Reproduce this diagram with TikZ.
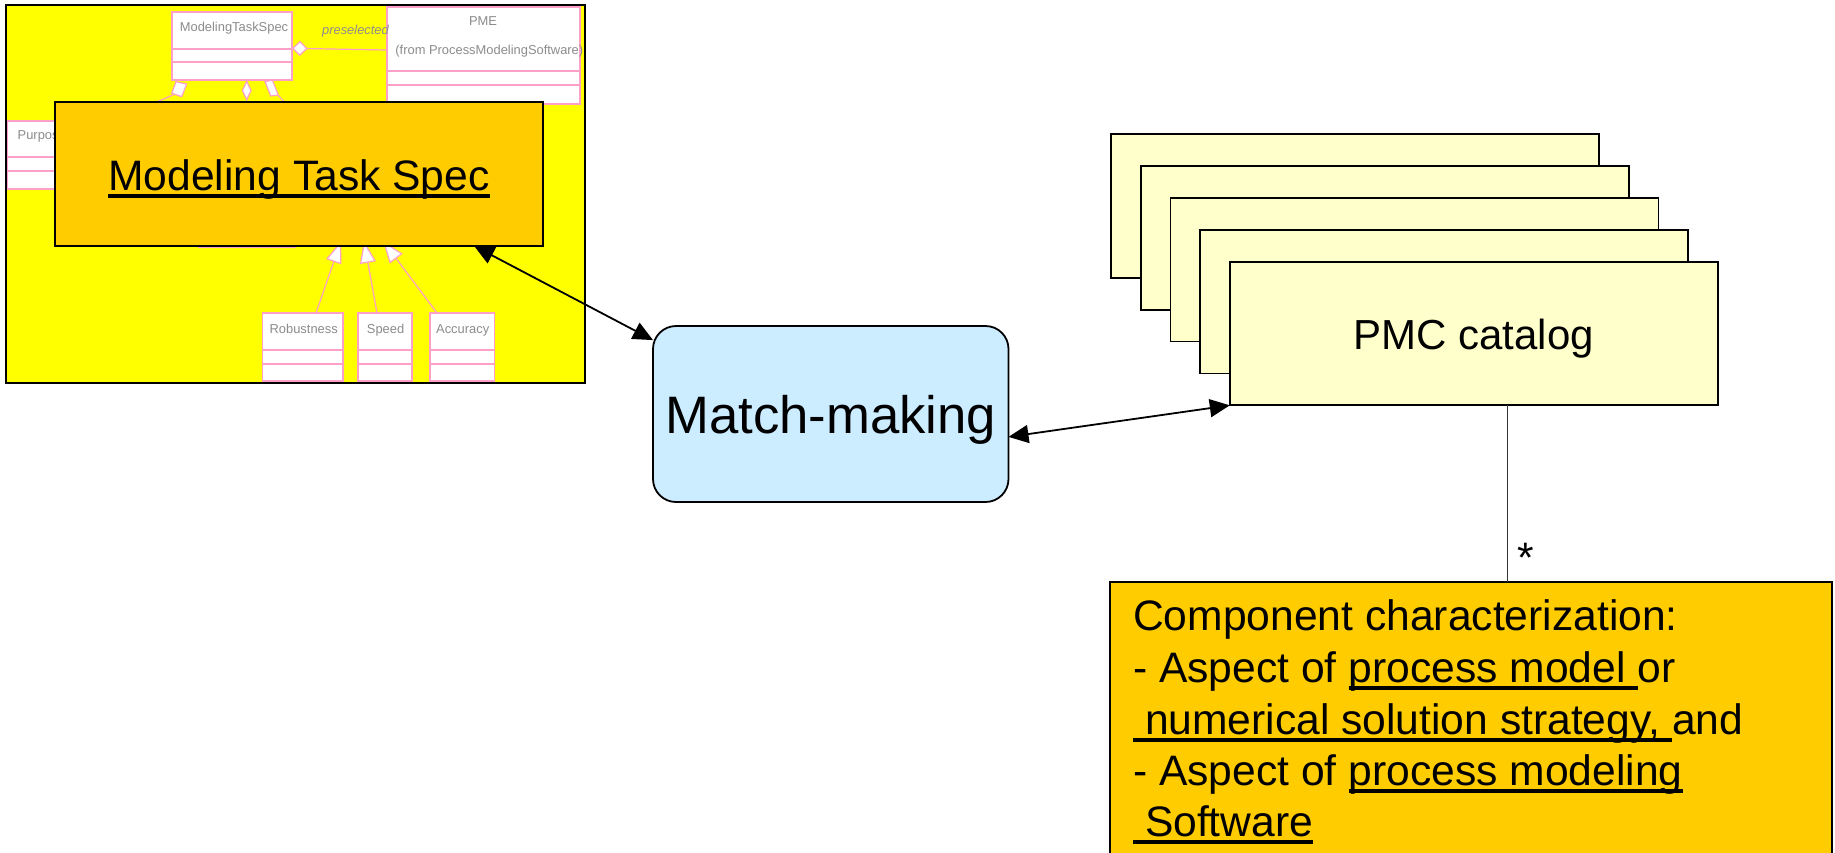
\documentclass[tikz,border=0pt]{standalone}
\usepackage{fontspec}
\setmainfont{Liberation Sans}
\usetikzlibrary{arrows.meta,calc}
\pgfdeclarelayer{back}
\pgfdeclarelayer{bg}
\pgfdeclarelayer{front}
\pgfsetlayers{back,bg,main,front}
\definecolor{ybg}{HTML}{FFFF00}
\definecolor{orng}{HTML}{FFCC00}
\definecolor{lblue}{HTML}{CCECFF}
\definecolor{pyel}{HTML}{FFFFCC}
\definecolor{umlpink}{HTML}{FFA0C8}
\definecolor{umlgray}{HTML}{8C8C8C}
\newcommand\ulx[1]{\setbox0=\hbox{#1}\rlap{\vrule height -1.8pt depth 3.8pt width \wd0}\box0}
\begin{document}
\begin{tikzpicture}[x=0.5pt,y=-0.5pt,
  blk/.style={draw=black,line width=0.9pt,inner sep=0pt,outer sep=0pt},
  umlbox/.style={draw=umlpink,fill=white,line width=0.65pt,inner sep=0pt,outer sep=0pt},
  umltxt/.style={text=umlgray,font=\fontsize{6.45pt}{7.5pt}\selectfont,inner sep=0pt},
  pinkl/.style={draw=umlpink,line width=0.6pt},
  bigtxt/.style={font=\fontsize{21.3pt}{25.65pt}\selectfont},
  arr/.style={line width=0.9pt,>={Triangle[length=10pt,width=9pt]},<->}
]
\useasboundingbox (0,0) rectangle (1835,852);

% white page and yellow background picture
\begin{pgfonlayer}{back}
\fill[white] (0,0) rectangle (1835,852);
\node[blk, fill=ybg, minimum width=289.5pt, minimum height=189pt] (ybox) at (295.5,194) {};
\end{pgfonlayer}

% UML class boxes
\node[umlbox, minimum width=60pt, minimum height=34pt] (mtsc) at (232,46) {};
\node[umlbox, minimum width=96.5pt, minimum height=48.5pt] (pme) at (483.5,55.5) {};
\node[umlbox, minimum width=56.25pt, minimum height=34pt] (purp) at (63.75,155) {};
\node[umlbox, minimum width=48pt, minimum height=23.75pt] (hid) at (247,223.75) {};
\node[umlbox, minimum width=40.25pt, minimum height=34pt] (rob) at (302.75,347) {};
\node[umlbox, minimum width=27pt, minimum height=34pt] (spd) at (385,347) {};
\node[umlbox, minimum width=32.25pt, minimum height=34pt] (acc) at (462.25,347) {};

\draw[pinkl] (mtsc.west |- 0,49) -- (mtsc.east |- 0,49);
\draw[pinkl] (mtsc.west |- 0,62) -- (mtsc.east |- 0,62);
\draw[pinkl] (pme.west |- 0,71) -- (pme.east |- 0,71);
\draw[pinkl] (pme.west |- 0,85) -- (pme.east |- 0,85);
\draw[pinkl] (purp.west |- 0,157) -- (purp.east |- 0,157);
\draw[pinkl] (purp.west |- 0,171) -- (purp.east |- 0,171);
\foreach \b in {rob,spd,acc}{
  \draw[pinkl] (\b.west |- 0,350) -- (\b.east |- 0,350);
  \draw[pinkl] (\b.west |- 0,364) -- (\b.east |- 0,364);
}

\node[umltxt, anchor=base] (tmtsc) at (234,31.6) {ModelingTaskSpec};
\node[umltxt, anchor=base] (tpre) at (355.5,34) {\itshape preselected};
\node[umltxt, anchor=base] (tpme) at (483,25) {PME};
\node[umltxt, anchor=base west] (tfrom) at (395,54.5) {(from ProcessModelingSoftware)};
\node[umltxt, anchor=base west] (tpurp) at (17.3,139.3) {Purpose};
\node[umltxt, anchor=base] (trob) at (303.7,333.3) {Robustness};
\node[umltxt, anchor=base] (tspd) at (385.6,333.3) {Speed};
\node[umltxt, anchor=base] (tacc) at (462.7,333.3) {Accuracy};

% UML connectors
\begin{pgfonlayer}{bg}
\coordinate (g1) at (341,241);
\coordinate (g2) at (364,241);
\coordinate (g3) at (383,241);
\draw[pinkl, -{Triangle[fill=white,length=11pt,width=8pt]}] ($(rob.north)+(13.25,0)$) -- (g1);
\draw[pinkl, -{Triangle[fill=white,length=11pt,width=8pt]}] ($(spd.north)+(-8,0)$) -- (g2);
\draw[pinkl, -{Triangle[fill=white,length=11pt,width=8pt]}] ($(acc.north)+(-25.25,0)$) -- (g3);
\draw[pinkl, {Diamond[fill=white,length=7.8pt,width=7.6pt]}-] ($(mtsc.east)+(0,2.3)$) -- ($(pme.west)+(0,-5.5)$);
\draw[pinkl, {Diamond[fill=white,length=10.5pt,width=5pt]}-] ($(mtsc.south)+(14.7,0)$) -- ++(0,60);
\filldraw[pinkl, fill=white] (176,81.7) -- (186.7,84) -- (181.7,96.7) -- (171.7,93.3) -- cycle;
\draw[pinkl] (175,94) -- (130,114);
\filldraw[pinkl, fill=white] (265,81.7) -- (272.3,80) -- (278.3,95) -- (270.7,96) -- cycle;
\draw[pinkl] (278.3,95.5) -- (292,110);
\end{pgfonlayer}

\begin{pgfonlayer}{front}
\node[blk, fill=orng, minimum width=244pt, minimum height=72pt, bigtxt, text height=16pt, text depth=0pt] (mts) at (299,174) {\ulx{Modeling Task Spec}};

\node[blk, fill=lblue, rounded corners=11.5pt, minimum width=177.75pt, minimum height=88pt, font=\fontsize{26.35pt}{30pt}\selectfont, text height=19pt, text depth=0pt] (mm) at (830.75,414) {Match-making};

\foreach \k in {0,...,3}{
  \node[blk, fill=pyel, minimum width=244pt, minimum height=71.85pt] (pmcb\k) at ({1355+29.7*\k},{205.85+31.9*\k}) {};
}
\node[blk, fill=pyel, minimum width=244pt, minimum height=71.85pt, font=\fontsize{21pt}{25pt}\selectfont, text height=16.45pt, text depth=0pt] (pmc) at (1473.8,333.45) {PMC catalog};

\node[blk, fill=orng, minimum width=360.85pt, minimum height=149.15pt] (comp) at (1471.15,730.85) {};
\node[bigtxt, anchor=base west, inner sep=0pt] (c1) at (1132.8,630.7) {Component characterization:};
\node[bigtxt, anchor=base west, inner sep=0pt] (c2) at (1132.8,682.7) {- Aspect of \ulx{process model }or};
\node[bigtxt, anchor=base west, inner sep=0pt] (c3) at (1132.8,734) {\ulx{ numerical solution strategy, }and};
\node[bigtxt, anchor=base west, inner sep=0pt] (c4) at (1132.8,785) {- Aspect of \ulx{process modeling}};
\node[bigtxt, anchor=base west, inner sep=0pt] (c5) at (1132.8,836) {\ulx{ Software}};

\draw[line width=0.7pt, black!80] ($(pmc.south west)!0.569!(pmc.south east)$) coordinate (pc) -- (pc |- comp.north);
\node[bigtxt, anchor=base, inner sep=0pt] (star) at (1525.7,572) {*};

\draw[arr] ($(mts.south west)!0.859!(mts.south east)$) -- ($(mm.north west)!0.08!(mm.south west)$);
\draw[arr] ($(mm.north east)!0.63!(mm.south east)$) -- (pmc.south west);
\end{pgfonlayer}
\end{tikzpicture}
\end{document}
